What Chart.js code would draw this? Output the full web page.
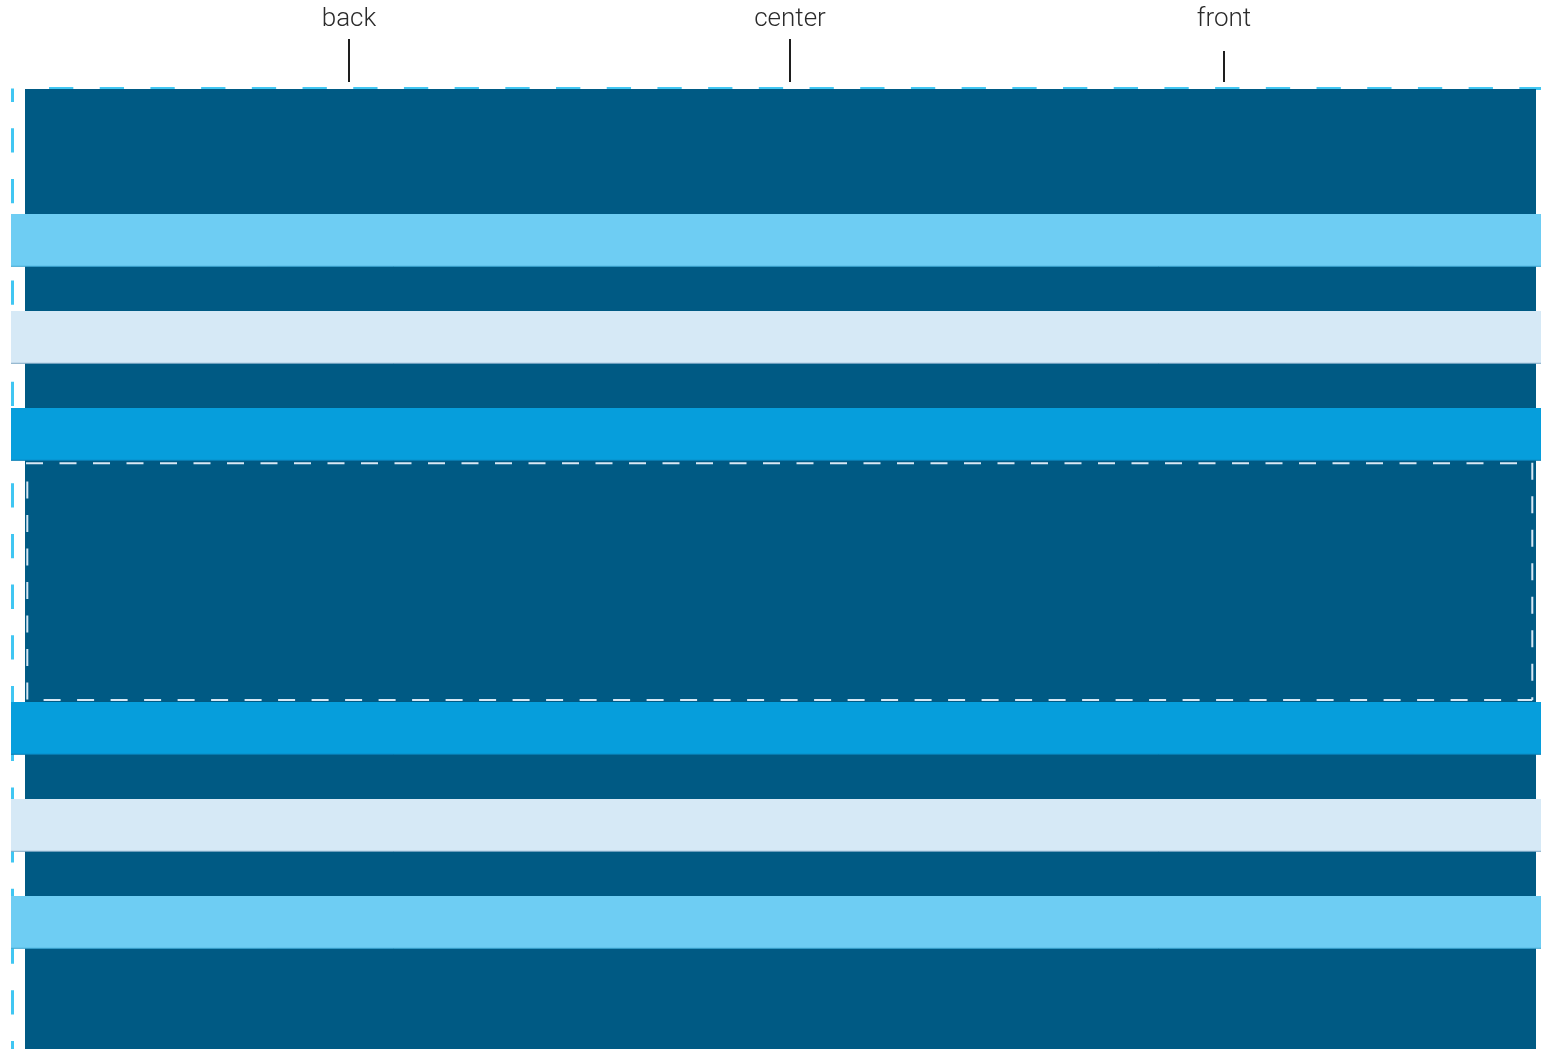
<!DOCTYPE html>
<html>
<head>
<meta charset="utf-8">
<script src="https://cdn.jsdelivr.net/npm/chart.js@4.4.1/dist/chart.umd.min.js"></script>
<style>
  html, body { margin: 0; padding: 0; background: #ffffff; }
  #wrap { position: relative; width: 1541px; height: 1049px; }
</style>
</head>
<body>
<div id="wrap"><canvas id="c"></canvas></div>
<script>
// ---- data (in the chart's own x / y units) ----
const layerLabels = ['back', 'center', 'front'];
const layerTicks = [349, 790, 1224];

const stackX = [25, 1536];          // dark stacking box
const stackY = [89, 1049];

const bandNames  = ['light', 'pale', 'medium', 'medium', 'pale', 'light'];
const bandTop    = [214, 311, 408, 702, 799, 896];
const bandBottom = [266.3, 363.3, 460.3, 754.3, 851.3, 948.3];
const bandX = [11, 1541];

const outerX = [12.5, 1541];        // cyan dashed outline
const outerY = [88.5, 1049];

const innerX = [27.3, 1532.3];      // white dashed outline
const innerY = [463.3, 700];

// ---- styles ----
const palette = {
  stack: '#005a84',
  light: '#6ecdf3', lightEdge: '#3ea6d2',
  pale: '#d6e9f6', paleEdge: '#7fa9c6',
  medium: '#069edc', mediumEdge: '#0a7db3',
  outer: '#40c6f2',
  inner: '#d9e8f4',
  text: '#2b2b2b',
  tick: '#1e1e1e'
};

const datasets = [];

// cyan dashed outline (bottom-most)
datasets.push({
  type: 'line', order: 20,
  data: [{x: outerX[0], y: outerY[0]}, {x: outerX[0], y: outerY[1]}],
  borderColor: palette.outer, borderWidth: 3,
  borderDash: [24.3, 26.4], borderDashOffset: 10.9,
  fill: false, pointRadius: 0
});
datasets.push({
  type: 'line', order: 20,
  data: [{x: outerX[0] + 10.5, y: outerY[0]}, {x: outerX[1], y: outerY[0]}],
  borderColor: palette.outer, borderWidth: 3,
  borderDash: [24.3, 26.4], borderDashOffset: 24.67,
  fill: false, pointRadius: 0
});

// dark stacking box
datasets.push({
  type: 'line', order: 15,
  data: [{x: stackX[0], y: stackY[1]}, {x: stackX[1], y: stackY[1]}],
  borderColor: 'transparent', borderWidth: 0,
  backgroundColor: palette.stack,
  fill: {value: stackY[0]}, pointRadius: 0
});

// bands
bandNames.forEach((name, i) => {
  datasets.push({
    type: 'line', order: 10,
    label: name,
    data: [{x: bandX[0], y: bandBottom[i]}, {x: bandX[1], y: bandBottom[i]}],
    borderColor: palette[name + 'Edge'], borderWidth: 1,
    backgroundColor: palette[name],
    fill: {value: bandTop[i]}, pointRadius: 0
  });
});

// white dashed outline (top-most)
const innerSides = [
  {pts: [[innerX[0] - 1.3, innerY[0]], [innerX[1] + 0.7, innerY[0]]], off: 0},
  {pts: [[innerX[0], innerY[0] + 1.7], [innerX[0], innerY[1]]], off: 17},
  {pts: [[innerX[0], innerY[1]], [innerX[1], innerY[1]]], off: 17.2},
  {pts: [[innerX[1], innerY[0] - 0.6], [innerX[1], innerY[1]]], off: 0}
];
innerSides.forEach(s => {
  datasets.push({
    type: 'line', order: 1,
    data: s.pts.map(p => ({x: p[0], y: p[1]})),
    borderColor: palette.inner, borderWidth: 2,
    borderDash: [17, 16.5], borderDashOffset: s.off,
    fill: false, pointRadius: 0
  });
});

new Chart(document.getElementById('c'), {
  type: 'line',
  data: { datasets },
  options: {
    responsive: true,
    maintainAspectRatio: false,
    animation: false,
    events: [],
    layout: { padding: 0 },
    plugins: { legend: { display: false }, tooltip: { enabled: false } },
    elements: { line: { tension: 0 }, point: { radius: 0 } },
    scales: {
      x: {
        type: 'linear', position: 'top', min: 0, max: 1541,
        afterBuildTicks: s => { s.ticks = layerTicks.map(v => ({ value: v })); },
        afterFit: s => { s.height = 82; },
        ticks: {
          autoSkip: false, maxRotation: 0, minRotation: 0,
          padding: 4,
          color: palette.text,
          font: { family: 'Roboto', weight: '300', size: 26 },
          callback: (v, i) => layerLabels[i]
        },
        grid: {
          drawOnChartArea: false,
          drawTicks: true,
          tickLength: 43,
          lineWidth: 2,
          tickWidth: 2,
          tickColor: palette.tick,
          tickBorderDash: ctx => (ctx.index === 2 ? [0, 12, 100] : [])
        },
        border: { display: false }
      },
      y: {
        type: 'linear', display: false, reverse: true, min: 82, max: 1049
      }
    }
  }
});
</script>
</body>
</html>
